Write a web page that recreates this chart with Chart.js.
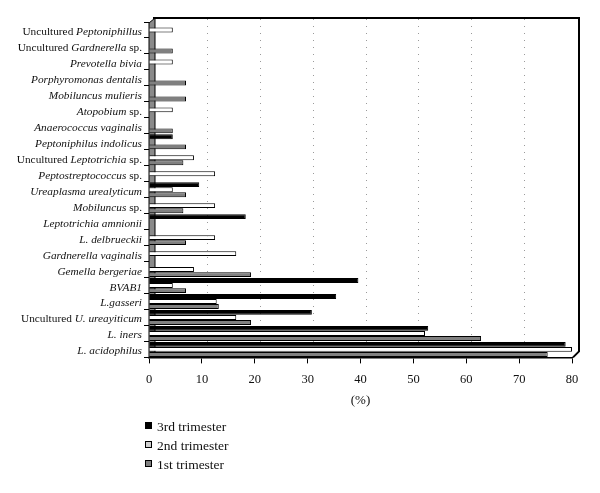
<!DOCTYPE html>
<html>
<head>
<meta charset="utf-8">
<script src="https://cdn.jsdelivr.net/npm/chart.js@4.4.0/dist/chart.umd.min.js"></script>
<style>
  html, body { margin: 0; padding: 0; background: #fff; }
  #wrap { position: relative; width: 600px; height: 493px; }
  #legend { position: absolute; left: 145px; top: 417px; font: 13.5px "Liberation Serif", serif; color: #111; }
  #legend div { height: 19px; line-height: 19px; }
  #legend span.box { display: inline-block; width: 5px; height: 5px; border: 1px solid #000; margin-right: 5px; vertical-align: 2px; }
</style>
</head>
<body>
<div id="wrap">
  <canvas id="chart" width="600" height="493"></canvas>
  <div id="legend"></div>
</div>
<script>
// --- Data (top to bottom, _text_ = italic) ---
const categories = [
  "Uncultured _Peptoniphillus_",
  "Uncultured _Gardnerella_ sp.",
  "_Prevotella bivia_",
  "_Porphyromonas dentalis_",
  "_Mobiluncus mulieris_",
  "_Atopobium_ sp.",
  "_Anaerococcus vaginalis_",
  "_Peptoniphilus indolicus_",
  "Uncultured _Leptotrichia_ sp.",
  "_Peptostreptococcus_ sp.",
  "_Ureaplasma urealyticum_",
  "_Mobiluncus_ sp.",
  "_Leptotrichia amnionii_",
  "_L. delbrueckii_",
  "_Gardnerella vaginalis_",
  "_Gemella bergeriae_",
  "_BVAB1_",
  "_L.gasseri_",
  "Uncultured _U. ureayiticum_",
  "_L. iners_",
  "_L. acidophilus_"
];
const thirdTrimester  = [0, 0, 0, 0, 0, 0, 0, 4.5, 0, 0, 9.5, 0, 18.3, 0, 0, 0, 39.6, 35.4, 30.8, 52.8, 78.8];
const secondTrimester = [4.5, 0, 4.5, 0, 0, 4.5, 0, 0, 8.5, 12.5, 4.5, 12.5, 0, 12.5, 16.5, 8.5, 4.5, 12.8, 16.5, 52.2, 80];
const firstTrimester  = [0, 4.5, 0, 7, 7, 0, 4.5, 7, 6.5, 0, 7, 6.5, 0, 7, 0, 19.3, 7, 13.2, 19.3, 62.8, 75.4];
const xTicks = [0, 10, 20, 30, 40, 50, 60, 70, 80];

const seriesNames = ["3rd trimester", "2nd trimester", "1st trimester"];
const seriesColors = ["#000000", "#ffffff", "#808080"];

// --- Helper plugin: frame, wall, dotted grid, mixed-italic labels ---
const decor = {
  id: "decor",
  beforeDatasetsDraw(chart) {
    const { ctx, chartArea: a, scales: { x } } = chart;
    ctx.save();
    // dotted grid on the back wall
    ctx.strokeStyle = "#9a9a9a";
    ctx.lineWidth = 1;
    ctx.setLineDash([1, 6]);
    xTicks.slice(1, -1).forEach(v => {
      const px = Math.round(x.getPixelForValue(v)) + 5.5;
      ctx.beginPath();
      ctx.moveTo(px, a.top - 3);
      ctx.lineTo(px, a.bottom - 6);
      ctx.stroke();
    });
    ctx.setLineDash([]);
    // back frame
    ctx.strokeStyle = "#000";
    ctx.lineWidth = 2;
    ctx.beginPath();
    ctx.moveTo(a.left + 4, a.top - 4);
    ctx.lineTo(a.right + 7, a.top - 4);
    ctx.lineTo(a.right + 7, a.bottom - 6);
    ctx.lineTo(a.right + 1, a.bottom);
    ctx.stroke();
    // left wall
    ctx.fillStyle = "#8a8a8a";
    ctx.lineWidth = 1;
    ctx.beginPath();
    ctx.moveTo(a.left, a.top + 1);
    ctx.lineTo(a.left + 6, a.top - 4);
    ctx.lineTo(a.left + 6, a.bottom - 5);
    ctx.lineTo(a.left, a.bottom);
    ctx.closePath();
    ctx.fill();
    ctx.stroke();
    ctx.restore();
  },
  afterDraw(chart) {
    const { ctx, chartArea: a, scales: { y } } = chart;
    ctx.save();
    ctx.fillStyle = "#111";
    ctx.textBaseline = "middle";
    categories.forEach((label, i) => {
      const parts = label.split("_").map((t, k) => ({ t, it: k % 2 === 1 })).filter(p => p.t);
      const fontFor = p => (p.it ? "italic " : "") + "11.3px 'Liberation Serif', serif";
      let w = 0;
      parts.forEach(p => { ctx.font = fontFor(p); w += ctx.measureText(p.t).width; });
      let px = a.left - 7 - w;
      const py = y.getPixelForValue(i) + 2;
      parts.forEach(p => {
        ctx.font = fontFor(p);
        ctx.fillText(p.t, px, py);
        px += ctx.measureText(p.t).width;
      });
    });
    ctx.restore();
  }
};

const datasets = [thirdTrimester, secondTrimester, firstTrimester].map((d, i) => ({
  label: seriesNames[i],
  data: d,
  backgroundColor: seriesColors[i],
  borderColor: "#000",
  borderWidth: 1,
  borderSkipped: "left",
  categoryPercentage: 0.95,
  barPercentage: 0.97
}));

new Chart(document.getElementById("chart").getContext("2d"), {
  type: "bar",
  data: { labels: categories.map(c => c.replace(/_/g, "")), datasets: datasets },
  options: {
    indexAxis: "y",
    responsive: false,
    animation: false,
    layout: { padding: { left: 144, right: 28, top: 22, bottom: 85 } },
    plugins: { legend: { display: false }, tooltip: { enabled: false } },
    scales: {
      x: {
        min: 0, max: 80,
        afterBuildTicks: s => { s.ticks = xTicks.map(v => ({ value: v })); },
        grid: { drawOnChartArea: false, color: "#000", tickLength: 6, lineWidth: 1 },
        border: { color: "#000", width: 1.5 },
        ticks: { color: "#111", font: { family: "'Liberation Serif', serif", size: 12.5 }, padding: 9 },
        title: { display: true, text: "(%)", color: "#111", font: { family: "'Liberation Serif', serif", size: 13 }, padding: { top: -4, bottom: 0 } }
      },
      y: {
        grid: { offset: true, drawOnChartArea: false, color: "#000", tickLength: 5 },
        border: { display: false },
        ticks: { display: false }
      }
    }
  },
  plugins: [decor]
});

// --- HTML legend ---
document.getElementById("legend").innerHTML = seriesNames.map((n, i) =>
  `<div><span class="box" style="background:${i === 1 ? "#d0d0d0" : seriesColors[i]}"></span>${n}</div>`
).join("");
</script>
</body>
</html>
